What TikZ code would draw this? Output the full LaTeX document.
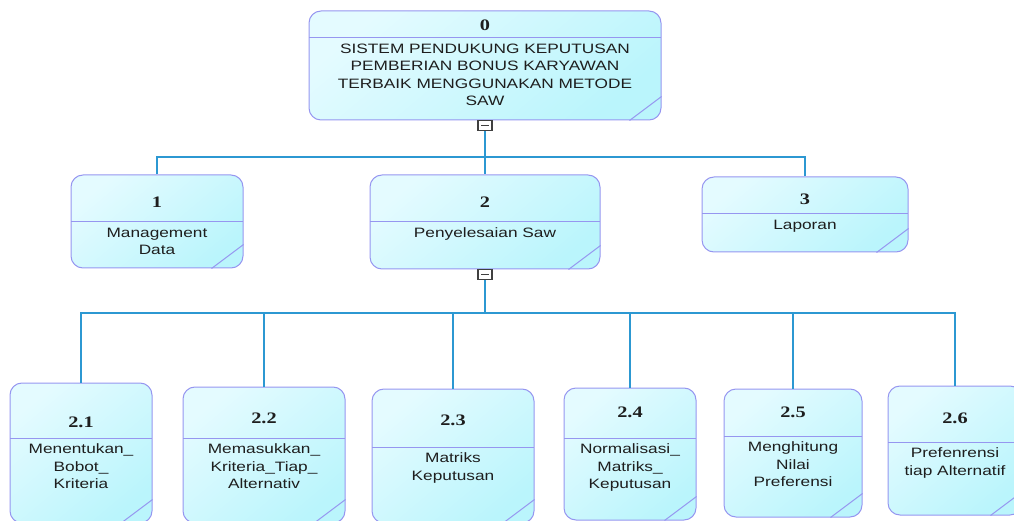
\documentclass[tikz,border=0pt]{standalone}
\usepackage{fontspec}
\newfontfamily\lblfont[FakeStretch=1.27]{Liberation Sans}
\newfontfamily\numfont[FakeStretch=1.27]{Liberation Serif}
\definecolor{bordc}{RGB}{150,150,240}
\definecolor{fillA}{RGB}{228,251,255}
\definecolor{fillB}{RGB}{186,245,252}
\definecolor{linkc}{RGB}{44,152,210}
\definecolor{txtc}{RGB}{30,30,30}
\tikzset{
  procshape/.style={draw=bordc, line width=1pt, rounded corners=12pt,
    top color=fillA, bottom color=fillB, shading angle=40, inner sep=0pt},
  divline/.style={draw=bordc, line width=1pt},
  numlbl/.style={font=\numfont\bfseries\fontsize{16}{18}\selectfont, text=txtc, inner sep=0pt},
  bodylbl/.style={font=\lblfont\fontsize{13.6}{17.5}\selectfont, text=txtc, align=center, inner sep=0pt, anchor=north},
  link/.style={draw=linkc, line width=2pt},
  minusbox/.style={draw=black!75, line width=1.2pt, fill=white, minimum width=14pt, minimum height=10pt, inner sep=0pt}
}
% #1 name, #2 left, #3 top, #4 right, #5 bottom, #6 divider y, #7 number y, #8 number, #9 text
\newcommand\procbox[9]{%
  \pgfmathsetmacro\pbw{#4-#2}%
  \pgfmathsetmacro\pbh{#5-#3}%
  \node[procshape, minimum width=\pbw pt, minimum height=\pbh pt] (#1) at ({(#2+#4)/2},{(#3+#5)/2}) {};
  \draw[divline] (#2,#6) -- (#4,#6);
  \node[numlbl] (#1num) at ({(#2+#4)/2},#7) {#8};
  \node[bodylbl] (#1txt) at ({(#2+#4)/2},{#6+5.5}) {#9};
  \draw[divline] (#1.south east) ++(0,-24) -- ++(-32,24);
}
\begin{document}
\begin{tikzpicture}[x=1pt,y=-1pt]
\useasboundingbox (0,0) rectangle (1014,521);
% boxes
\procbox{b0}{309}{11}{661}{120}{38}{25}{0}{SISTEM PENDUKUNG KEPUTUSAN\\PEMBERIAN BONUS KARYAWAN\\TERBAIK MENGGUNAKAN METODE\\SAW}
\procbox{b1}{71}{175}{243}{268}{222}{202}{1}{Management\\Data}
\procbox{b2}{370}{175}{600}{269}{222}{202}{2}{Penyelesaian Saw}
\procbox{b3}{702}{177}{908}{252}{214}{199}{3}{Laporan}
\procbox{b21}{10}{383}{152}{523}{438}{422}{2.1}{Menentukan\_\\Bobot\_\\Kriteria}
\procbox{b22}{183}{387}{345}{523}{438}{418}{2.2}{Memasukkan\_\\Kriteria\_Tiap\_\\Alternativ}
\procbox{b23}{372}{389}{534}{523}{447}{420}{2.3}{Matriks\\Keputusan}
\procbox{b24}{564}{388}{696}{520}{438}{412}{2.4}{Normalisasi\_\\Matriks\_\\Keputusan}
\procbox{b25}{724}{389}{862}{517}{436}{412}{2.5}{Menghitung\\Nilai\\Preferensi}
\procbox{b26}{888}{386}{1022}{515}{442}{418}{2.6}{Prefenrensi\\tiap Alternatif}
% collapse markers
\node[minusbox] (m0) at (485,125.5) {};
\draw[black!75, line width=1.2pt] ([xshift=-4pt]m0.center) -- ([xshift=4pt]m0.center);
\node[minusbox] (m2) at (485,274.5) {};
\draw[black!75, line width=1.2pt] ([xshift=-4pt]m2.center) -- ([xshift=4pt]m2.center);
% junction coordinates
\coordinate (j0) at (485,157);
\coordinate (j2) at (485,313);
% top level connectors
\draw[link] (m0.south) -- (j0);
\draw[link] (b1.north) |- (j0);
\draw[link] (b3.north) |- (j0);
\draw[link] (j0) -- (b2.north);
% second level connectors
\draw[link] (m2.south) -- (j2);
\draw[link] (b21.north) |- (j2);
\draw[link] (b22.north) |- (j2);
\draw[link] (b23.north) |- (j2);
\draw[link] (b24.north) |- (j2);
\draw[link] (b25.north) |- (j2);
\draw[link] (b26.north) |- (j2);
\end{tikzpicture}
\end{document}
